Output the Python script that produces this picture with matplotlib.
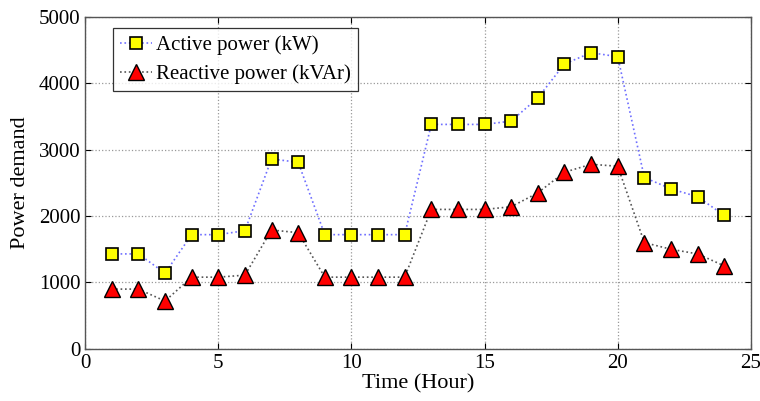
import matplotlib
matplotlib.use("Agg")
import matplotlib.pyplot as plt

hours = list(range(1, 25))
active = [1430, 1430, 1140, 1720, 1720, 1780, 2860, 2810, 1720, 1720, 1720, 1720,
          3380, 3380, 3380, 3430, 3780, 4290, 4460, 4400, 2580, 2410, 2290, 2010]
reactive = [900, 900, 720, 1080, 1080, 1110, 1790, 1750, 1080, 1080, 1080, 1080,
            2100, 2100, 2100, 2140, 2350, 2660, 2780, 2750, 1600, 1500, 1430, 1250]

plt.rcParams['font.family'] = ['Liberation Serif', 'DejaVu Serif']

fig = plt.figure(figsize=(7.6, 4.01), dpi=100)
ax = fig.add_axes([0.112, 0.130, 0.876, 0.828])

ax.plot(hours, active, linestyle=':', color='#6f6fff', linewidth=1.2,
        marker='s', markersize=9, markerfacecolor='#ffff00', markeredgecolor='black',
        markeredgewidth=1.2, label='Active power (kW)')
ax.plot(hours, reactive, linestyle=':', color='#555555', linewidth=1.2,
        marker='^', markersize=11, markerfacecolor='#ff0000', markeredgecolor='black',
        markeredgewidth=1.0, label='Reactive power (kVAr)')

ax.set_xlim(0, 25)
ax.set_ylim(0, 5000)
ax.set_xticks([0, 5, 10, 15, 20, 25])
ax.set_yticks([0, 1000, 2000, 3000, 4000, 5000])
ax.grid(True, linestyle=':', color='#999999', linewidth=0.9)
ax.tick_params(direction='in', labelsize=15, length=4, top=True, right=True)
for s in ax.spines.values():
    s.set_color('#555555')
    s.set_linewidth(1.0)
ax.set_xlabel('Time (Hour)', fontsize=16, labelpad=1)
ax.set_ylabel('Power demand', fontsize=16, labelpad=6)

leg = ax.legend(loc='upper left', bbox_to_anchor=(0.042, 0.967), fontsize=15,
                frameon=True, fancybox=False, borderpad=0.35, handlelength=1.5,
                handletextpad=0.2, labelspacing=0.45, borderaxespad=0)
leg.get_frame().set_edgecolor('black')
leg.get_frame().set_linewidth(0.9)

fig.savefig('out.png', dpi=100)
